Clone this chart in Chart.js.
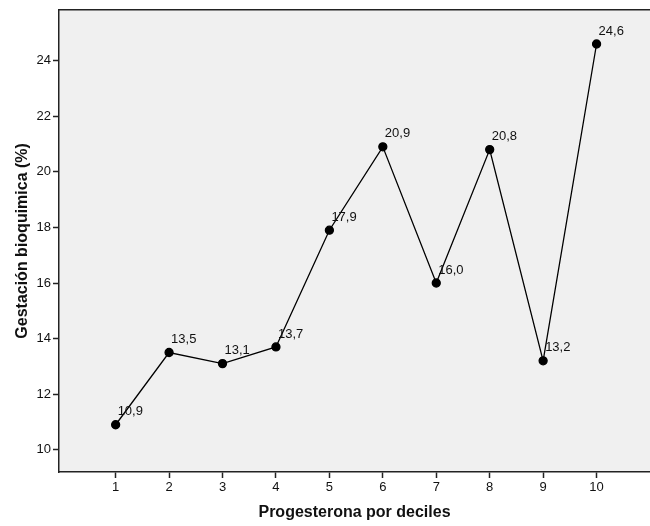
<!DOCTYPE html>
<html>
<head>
<meta charset="utf-8">
<script src="https://cdn.jsdelivr.net/npm/chart.js@4.4.1/dist/chart.umd.min.js"></script>
<style>
  html, body { margin: 0; padding: 0; background: #fff; }
  #wrap { width: 650px; height: 526px; }
</style>
</head>
<body>
<div id="wrap"><canvas id="chart" width="650" height="526"></canvas></div>
<script>
// deciles of progesterone and biochemical pregnancy rate (%)
const deciles = [1, 2, 3, 4, 5, 6, 7, 8, 9, 10];
const gestacion = [10.9, 13.5, 13.1, 13.7, 17.9, 20.9, 16.0, 20.8, 13.2, 24.6];
const yTicks = [10, 12, 14, 16, 18, 20, 22, 24];

const FONT = 'Liberation Sans, Arial, sans-serif';

// grey plot background + top frame line
const plotFrame = {
  id: 'plotFrame',
  beforeDraw(chart) {
    const { ctx, chartArea: a } = chart;
    ctx.save();
    ctx.fillStyle = '#f0f0f0';
    ctx.fillRect(a.left, a.top, a.right - a.left, a.bottom - a.top);
    ctx.restore();
  },
  afterDraw(chart) {
    const { ctx, chartArea: a } = chart;
    ctx.save();
    ctx.strokeStyle = '#222';
    ctx.lineWidth = 1.5;
    ctx.beginPath();
    ctx.moveTo(a.left, a.top);
    ctx.lineTo(a.right, a.top);
    ctx.stroke();
    ctx.restore();
  }
};

// value labels next to each point, comma decimals
const pointLabels = {
  id: 'pointLabels',
  afterDatasetsDraw(chart) {
    const { ctx } = chart;
    const meta = chart.getDatasetMeta(0);
    ctx.save();
    ctx.font = '13px ' + FONT;
    ctx.fillStyle = '#111';
    ctx.textAlign = 'left';
    ctx.textBaseline = 'middle';
    meta.data.forEach((pt, i) => {
      const txt = gestacion[i].toFixed(1).replace('.', ',');
      ctx.fillText(txt, pt.x + 2, pt.y - 13);
    });
    ctx.restore();
  }
};

new Chart(document.getElementById('chart'), {
  type: 'scatter',
  data: {
    datasets: [{
      data: deciles.map((d, i) => ({ x: d, y: gestacion[i] })),
      showLine: true,
      borderColor: '#000',
      borderWidth: 1.3,
      backgroundColor: '#000',
      pointRadius: 4,
      pointHoverRadius: 4
    }]
  },
  options: {
    responsive: false,
    animation: false,
    layout: { autoPadding: false, padding: { top: 9, right: 0, left: 0, bottom: 0 } },
    plugins: { legend: { display: false }, tooltip: { enabled: false } },
    scales: {
      x: {
        type: 'linear',
        min: -0.06,
        max: 11,
        afterBuildTicks: s => { s.ticks = deciles.map(v => ({ value: v })); },
        afterFit: s => { s.height = 54; },
        grid: { drawOnChartArea: false, tickLength: 6, tickColor: '#222', tickWidth: 1.5 },
        border: { color: '#222', width: 1.5 },
        ticks: { color: '#111', font: { family: FONT, size: 13 }, padding: 2, maxRotation: 0 },
        title: {
          display: true,
          text: 'Progesterona por deciles',
          color: '#111',
          font: { family: FONT, size: 16, weight: 'bold' },
          padding: { top: 4, bottom: 4 }
        }
      },
      y: {
        min: 9.2,
        max: 25.83,
        afterBuildTicks: s => { s.ticks = yTicks.map(v => ({ value: v })); },
        afterFit: s => { s.width = 59; },
        grid: { drawOnChartArea: false, tickLength: 6, tickColor: '#222', tickWidth: 1.5 },
        border: { color: '#222', width: 1.5 },
        ticks: { color: '#111', font: { family: FONT, size: 13 }, padding: 2 },
        title: {
          display: true,
          text: 'Gestación bioquimica (%)',
          color: '#111',
          font: { family: FONT, size: 16, weight: 'bold' },
          padding: { top: 13, bottom: 4 }
        }
      }
    }
  },
  plugins: [plotFrame, pointLabels]
});
</script>
</body>
</html>
